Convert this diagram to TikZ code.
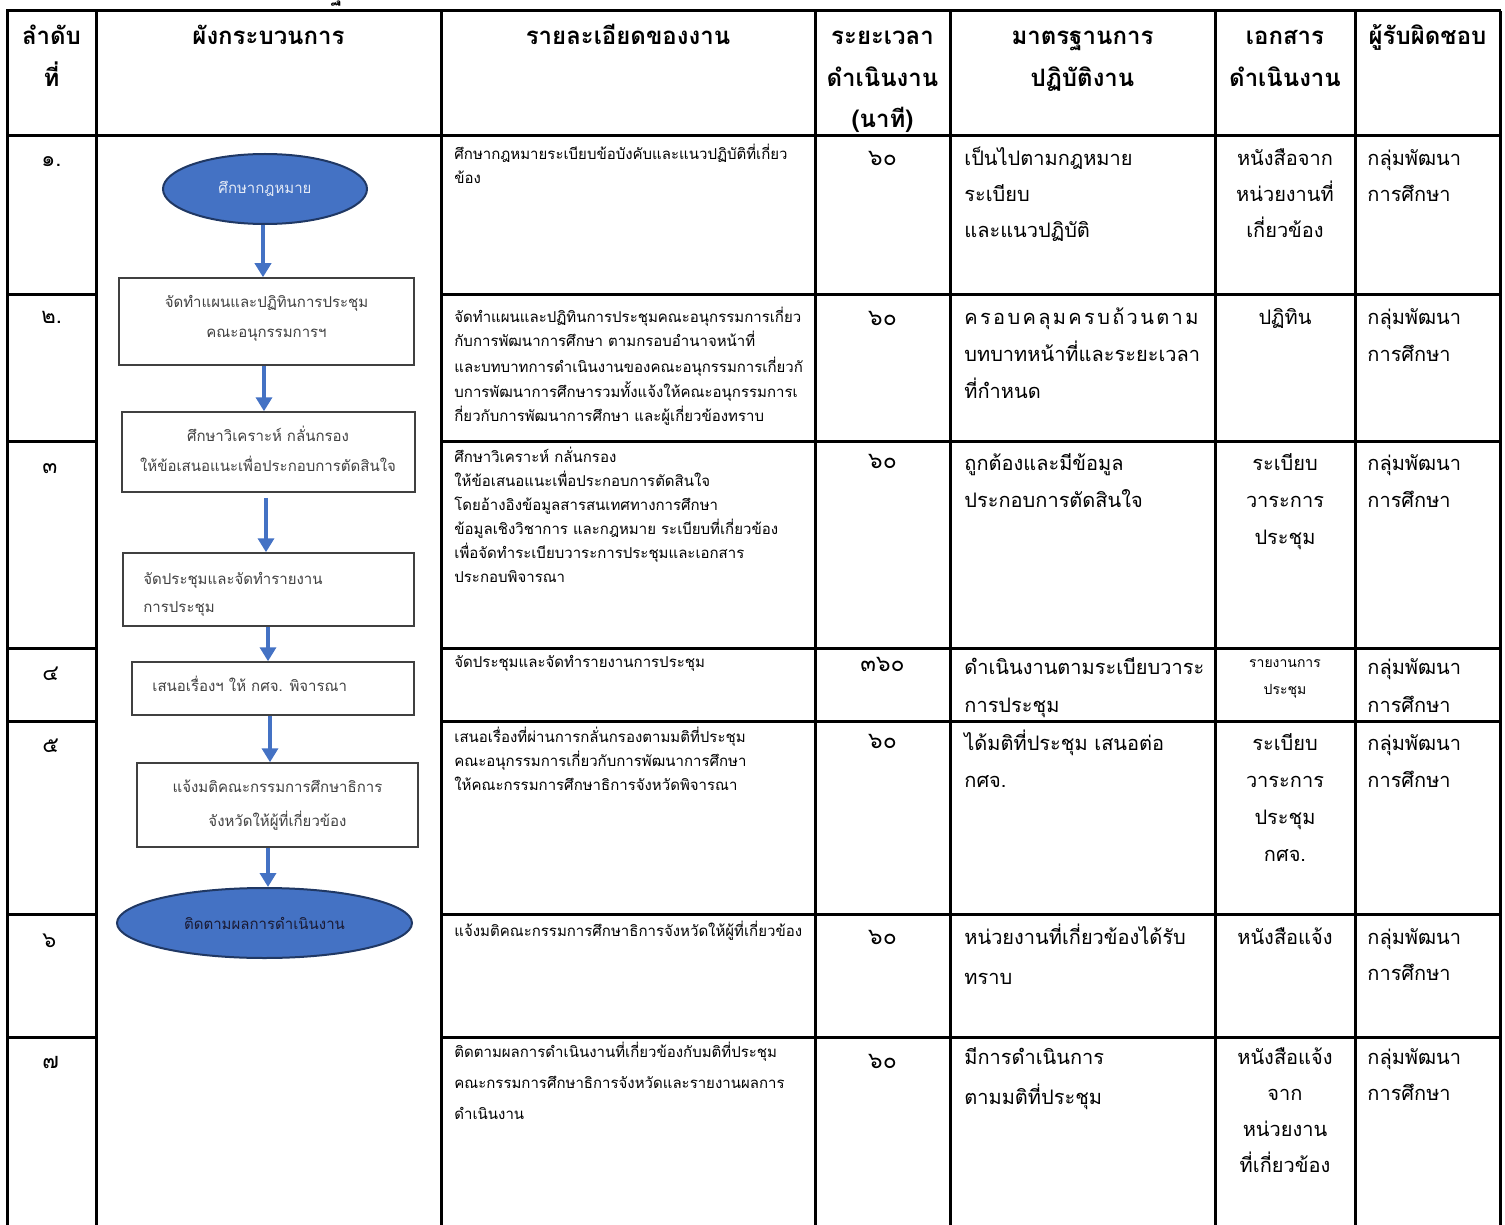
\documentclass[tikz,border=0pt]{standalone}
\usepackage{fontspec}
\setmainfont{Loma}[Script=Thai]
\usetikzlibrary{arrows.meta,shapes.geometric}
\definecolor{flowblue}{HTML}{4472C4}
\definecolor{ellnavy}{HTML}{203864}
\definecolor{boxgray}{HTML}{404040}
\definecolor{lighttxt}{HTML}{E4EAF6}
\definecolor{darktxt}{HTML}{1A1A33}
\newcommand\txtlines[6]{\foreach \t [count=\i] in {#6}{\node[#2] (#1-\i) at (#3,{#4+(\i-1)*(#5)}) {\t};}}
\tikzset{
  tbl/.style={line width=1.5pt, black},
  hd/.style={font=\bfseries\fontsize{12}{14}\selectfont, anchor=base, inner sep=0},
  bd/.style={font=\fontsize{10}{12}\selectfont, anchor=base west, inner sep=0},
  bdc/.style={bd, anchor=base},
  numtxt/.style={font=\fontsize{11}{13}\selectfont, anchor=base west, inner sep=0},
  timetxt/.style={font=\fontsize{11.5}{13}\selectfont, anchor=base, inner sep=0},
  ds/.style={font=\fontsize{7.5}{9}\selectfont, anchor=base west, inner sep=0},
  dsc/.style={font=\fontsize{7}{9}\selectfont, anchor=base, inner sep=0},
  bt/.style={font=\fontsize{7.5}{9}\selectfont, text=boxgray, anchor=base, inner sep=0},
  btl/.style={bt, anchor=base west},
  flowbox/.style={draw=boxgray, line width=0.75pt, rectangle, inner sep=0},
  term/.style={ellipse, draw=ellnavy, fill=flowblue, line width=1pt, inner sep=0, font=\fontsize{7.5}{9}\selectfont},
  flow/.style={draw=flowblue, line width=2pt, -{Triangle[width=8pt,length=7pt]}},
}
\begin{document}
\begin{tikzpicture}[x=0.5pt,y=-0.5pt]
\useasboundingbox (0,0) rectangle (1505,1225);
% fragment of a text line that lies above the page
\node[font=\bfseries\fontsize{11}{13}\selectfont, anchor=base west, inner sep=0] (frag) at (330,1) {ฐ};
% table grid
\foreach \x in {7,96,441,815,950,1215,1355,1500}{\draw[tbl] (\x,11) -- (\x,1230);}
\draw[tbl] (6.25,11) -- (1500.75,11);
\draw[tbl] (6.25,136) -- (1500.75,136);
\foreach \y in {295,441,648,721,914,1037}{
  \draw[tbl] (6.25,\y) -- (96,\y);
  \draw[tbl] (441,\y) -- (1500.75,\y);
}
% header
\txtlines{h1}{hd}{51.5}{45}{41.5}{ลำดับ,ที่}
\txtlines{h2}{hd}{268.5}{45}{41.5}{ผังกระบวนการ}
\txtlines{h3}{hd}{628}{45}{41.5}{รายละเอียดของงาน}
\txtlines{h4}{hd}{882.5}{45}{41.5}{ระยะเวลา,ดำเนินงาน,{(นาที)}}
\txtlines{h5}{hd}{1082.5}{45}{41.5}{มาตรฐานการ,ปฏิบัติงาน}
\txtlines{h6}{hd}{1285}{45}{41.5}{เอกสาร,ดำเนินงาน}
\txtlines{h7}{hd}{1427.5}{45}{41.5}{ผู้รับผิดชอบ}
% row numbers
\node[numtxt] (n1) at (41,167) {๑.};
\node[numtxt] (n2) at (41,324) {๒.};
\node[numtxt] (n3) at (42,473) {๓};
\node[numtxt] (n4) at (42,680) {๔};
\node[numtxt] (n5) at (42,752) {๕};
\node[numtxt] (n6) at (42,947) {๖};
\node[numtxt] (n7) at (42,1068) {๗};
% description column
\txtlines{d1}{ds}{454}{160}{24}{ศึกษากฎหมายระเบียบข้อบังคับและแนวปฏิบัติที่เกี่ยว,ข้อง}
\txtlines{d2}{ds}{454}{322}{25}{จัดทำแผนและปฏิทินการประชุมคณะอนุกรรมการเกี่ยว,กับการพัฒนาการศึกษา ตามกรอบอำนาจหน้าที่,และบทบาทการดำเนินงานของคณะอนุกรรมการเกี่ยวกั,บการพัฒนาการศึกษารวมทั้งแจ้งให้คณะอนุกรรมการเ,กี่ยวกับการพัฒนาการศึกษา และผู้เกี่ยวข้องทราบ}
\txtlines{d3}{ds}{454}{462}{24}{ศึกษาวิเคราะห์ กลั่นกรอง,ให้ข้อเสนอแนะเพื่อประกอบการตัดสินใจ,โดยอ้างอิงข้อมูลสารสนเทศทางการศึกษา,ข้อมูลเชิงวิชาการ และกฎหมาย ระเบียบที่เกี่ยวข้อง,เพื่อจัดทำระเบียบวาระการประชุมและเอกสาร,ประกอบพิจารณา}
\txtlines{d4}{ds}{454}{667}{24}{จัดประชุมและจัดทำรายงานการประชุม}
\txtlines{d5}{ds}{454}{742}{24}{เสนอเรื่องที่ผ่านการกลั่นกรองตามมติที่ประชุม,คณะอนุกรรมการเกี่ยวกับการพัฒนาการศึกษา,ให้คณะกรรมการศึกษาธิการจังหวัดพิจารณา}
\txtlines{d6}{ds}{454}{936}{24}{แจ้งมติคณะกรรมการศึกษาธิการจังหวัดให้ผู้ที่เกี่ยวข้อง}
\txtlines{d7}{ds}{454}{1057}{31}{ติดตามผลการดำเนินงานที่เกี่ยวข้องกับมติที่ประชุม,คณะกรรมการศึกษาธิการจังหวัดและรายงานผลการ,ดำเนินงาน}
% time column
\node[timetxt] (t1) at (882.5,166) {๖๐};
\node[timetxt] (t2) at (882.5,326) {๖๐};
\node[timetxt] (t3) at (882.5,468) {๖๐};
\node[timetxt] (t4) at (882.5,671) {๓๖๐};
\node[timetxt] (t5) at (882.5,748) {๖๐};
\node[timetxt] (t6) at (882.5,944) {๖๐};
\node[timetxt] (t7) at (882.5,1068) {๖๐};
% standard column
\txtlines{s1}{bd}{964}{166}{36}{เป็นไปตามกฎหมาย,ระเบียบ,และแนวปฏิบัติ}
\node[bd] (s2-1) at (964,325) {\hbox to 117pt{ค\hfil ร\hfil อ\hfil บ\hfil ค\hfil ลุ\hfil ม\hfil ค\hfil ร\hfil บ\hfil ถ้\hfil ว\hfil น\hfil ต\hfil า\hfil ม}};
\node[bd] (s2-2) at (964,362) {บทบาทหน้าที่และระยะเวลา};
\node[bd] (s2-3) at (964,399) {ที่กำหนด};
\txtlines{s3}{bd}{964}{470}{37}{ถูกต้องและมีข้อมูล,ประกอบการตัดสินใจ}
\txtlines{s4}{bd}{964}{674}{38}{ดำเนินงานตามระเบียบวาระ,การประชุม}
\txtlines{s5}{bd}{964}{750}{37}{ได้มติที่ประชุม เสนอต่อ,กศจ.}
\txtlines{s6}{bd}{964}{944}{40}{หน่วยงานที่เกี่ยวข้องได้รับ,ทราบ}
\txtlines{s7}{bd}{964}{1064}{40}{มีการดำเนินการ,ตามมติที่ประชุม}
% documents column
\txtlines{o1}{bdc}{1285}{166}{36}{หนังสือจาก,หน่วยงานที่,เกี่ยวข้อง}
\txtlines{o2}{bdc}{1285}{325}{36}{ปฏิทิน}
\txtlines{o3}{bdc}{1285}{470}{37}{ระเบียบ,วาระการ,ประชุม}
\txtlines{o4}{dsc}{1285}{667}{27}{รายงานการ,ประชุม}
\txtlines{o5}{bdc}{1285}{750}{37}{ระเบียบ,วาระการ,ประชุม,กศจ.}
\txtlines{o6}{bdc}{1285}{944}{36}{หนังสือแจ้ง}
\txtlines{o7}{bdc}{1285}{1064}{36}{หนังสือแจ้ง,จาก,หน่วยงาน,ที่เกี่ยวข้อง}
% responsible column
\txtlines{p1}{bd}{1367}{166}{36}{กลุ่มพัฒนา,การศึกษา}
\txtlines{p2}{bd}{1367}{325}{37}{กลุ่มพัฒนา,การศึกษา}
\txtlines{p3}{bd}{1367}{470}{37}{กลุ่มพัฒนา,การศึกษา}
\txtlines{p4}{bd}{1367}{674}{38}{กลุ่มพัฒนา,การศึกษา}
\txtlines{p5}{bd}{1367}{750}{37}{กลุ่มพัฒนา,การศึกษา}
\txtlines{p6}{bd}{1367}{944}{36}{กลุ่มพัฒนา,การศึกษา}
\txtlines{p7}{bd}{1367}{1064}{36}{กลุ่มพัฒนา,การศึกษา}
% flowchart
\node[term, minimum width=102pt, minimum height=35pt, text=lighttxt] (e1) at (265,189) {ศึกษากฎหมาย};
\node[flowbox, minimum width=147.5pt, minimum height=43.5pt] (b2) at (266.5,321.5) {};
\node[flowbox, minimum width=146.5pt, minimum height=40pt] (b3) at (268.5,452) {};
\node[flowbox, minimum width=145.5pt, minimum height=36.5pt] (b4) at (268.5,589.5) {};
\node[flowbox, minimum width=141pt, minimum height=26.5pt] (b5) at (273,688.5) {};
\node[flowbox, minimum width=140.5pt, minimum height=42pt] (b6) at (277.5,805) {};
\node[term, minimum width=147.5pt, minimum height=35pt, text=darktxt] (e2) at (264.5,923) {ติดตามผลการดำเนินงาน};
\txtlines{b2t}{bt}{266.5}{307}{30}{จัดทำแผนและปฏิทินการประชุม,คณะอนุกรรมการฯ}
\txtlines{b3t}{bt}{268}{441}{30}{ศึกษาวิเคราะห์ กลั่นกรอง,ให้ข้อเสนอแนะเพื่อประกอบการตัดสินใจ}
\txtlines{b4t}{btl}{143}{584}{28}{จัดประชุมและจัดทำรายงาน,การประชุม}
\txtlines{b5t}{btl}{152}{691}{28}{เสนอเรื่องฯ ให้ กศจ. พิจารณา}
\txtlines{b6t}{bt}{277.5}{792}{34}{แจ้งมติคณะกรรมการศึกษาธิการ,จังหวัดให้ผู้ที่เกี่ยวข้อง}
% arrows
\coordinate (ax1) at (263,0);
\coordinate (ax2) at (264,0);
\coordinate (ax3) at (266,0);
\coordinate (ax4) at (268,0);
\coordinate (ax5) at (270,0);
\coordinate (ax6) at (268,0);
\draw[flow] (e1.south -| ax1) -- (b2.north -| ax1);
\draw[flow] (b2.south -| ax2) -- (b3.north -| ax2);
\draw[flow, shorten <=2.5pt] (b3.south -| ax3) -- (b4.north -| ax3);
\draw[flow] (b4.south -| ax4) -- (b5.north -| ax4);
\draw[flow] (b5.south -| ax5) -- (b6.north -| ax5);
\draw[flow] (b6.south -| ax6) -- (e2.north -| ax6);
\end{tikzpicture}
\end{document}
